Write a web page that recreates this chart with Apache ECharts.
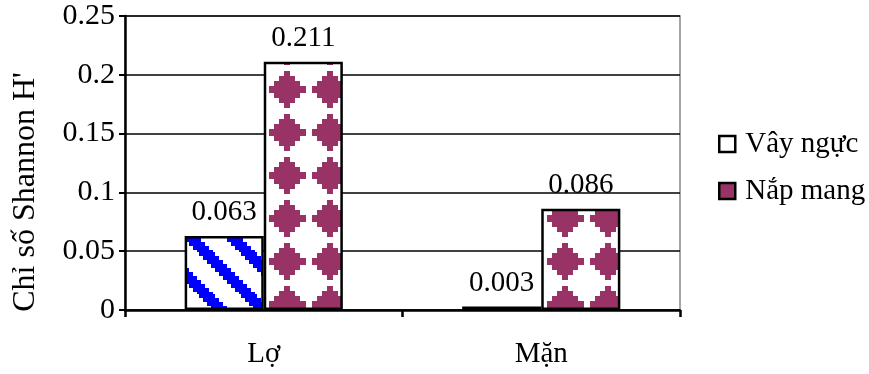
<!DOCTYPE html>
<html>
<head>
<meta charset="utf-8">
<script src="https://cdn.jsdelivr.net/npm/echarts@6/dist/echarts.min.js"></script>
<style>
  html, body { margin: 0; padding: 0; background: #fff; }
  #chart { width: 869px; height: 374px; }
</style>
</head>
<body>
<div id="chart"></div>
<script>
// du lieu doc tu hinh
var categories = ['Lợ', 'Mặn'];
var seriesNames = ['Vây ngực', 'Nắp mang'];
var vayNguc = [0.063, 0.003];
var napMang = [0.211, 0.086];
var yTicks = [0, 0.05, 0.1, 0.15, 0.2, 0.25];

var FONT = '"Liberation Serif", "Times New Roman", serif';
var MAROON = '#993366';
var BLUE = '#0000ff';

// hoa van soc cheo mau xanh
function makeStripeTile() {
  var n = 42;
  var c = document.createElement('canvas');
  c.width = n; c.height = n;
  var ctx = c.getContext('2d');
  ctx.fillStyle = '#fff';
  ctx.fillRect(0, 0, n, n);
  ctx.fillStyle = BLUE;
  for (var y = 0; y < n; y++) {
    var yq = Math.floor(y / 4) * 4;
    for (var x = 0; x < n; x++) {
      var d = (((x - yq) % n) + n) % n;
      if (d >= 31 || d < 5) ctx.fillRect(x, y, 1, 1);
    }
  }
  return c;
}

// hoa van hinh thoi mau tim
function makeDiamondTile() {
  var n = 43;
  var c = document.createElement('canvas');
  c.width = n; c.height = n;
  var ctx = c.getContext('2d');
  ctx.fillStyle = '#fff';
  ctx.fillRect(0, 0, n, n);
  ctx.fillStyle = MAROON;
  var steps = [[18.5, 3.5], [13, 8.5], [8, 13.5], [3, 18.5]];
  for (var i = -1; i <= 1; i++) {
    for (var j = -1; j <= 1; j++) {
      var cx = 29 + i * n, cy = 3 + j * n;
      steps.forEach(function (s) {
        ctx.fillRect(Math.round(cx - s[0]), Math.round(cy - s[1]), Math.round(s[0] * 2), Math.round(s[1] * 2));
      });
    }
  }
  return c;
}

var stripeTile = makeStripeTile();
var diamondTile = makeDiamondTile();
var diamondShift = [0, -23];

var chart = echarts.init(document.getElementById('chart'), null, { renderer: 'canvas' });

var labelStyle = {
  show: true,
  position: 'top',
  distance: 9,
  color: '#000',
  fontFamily: FONT,
  fontSize: 29,
  formatter: function (p) { return p.value.toFixed(3); }
};

chart.setOption({
  animation: false,
  backgroundColor: '#fff',
  grid: {
    left: 125, right: 189, top: 16, bottom: 64,
    show: true, borderColor: '#888', borderWidth: 1.5, backgroundColor: 'transparent'
  },
  legend: {
    orient: 'vertical',
    left: 713, top: 124,
    itemWidth: 16, itemHeight: 16, itemGap: 17,
    icon: 'rect',
    textStyle: { fontFamily: FONT, fontSize: 29, color: '#000', lineHeight: 30, padding: [0, 0, 0, 5] },
    data: [
      { name: seriesNames[0], itemStyle: { color: '#fff', borderColor: '#000', borderWidth: 2.5 } },
      { name: seriesNames[1], itemStyle: { color: MAROON, borderColor: '#000', borderWidth: 2.5 } }
    ]
  },
  xAxis: {
    type: 'category',
    data: categories,
    axisLine: { lineStyle: { color: '#000', width: 2.5 } },
    axisTick: { show: true, length: 7, lineStyle: { color: '#000', width: 2.5 } },
    axisLabel: { color: '#000', fontFamily: FONT, fontSize: 29, lineHeight: 30, margin: 29 }
  },
  yAxis: {
    type: 'value',
    min: yTicks[0], max: yTicks[yTicks.length - 1], interval: 0.05,
    axisLine: { show: true, lineStyle: { color: '#000', width: 2.5 } },
    axisTick: { show: true, length: 6, lineStyle: { color: '#000', width: 2 } },
    axisLabel: {
      color: '#000', fontFamily: FONT, fontSize: 30, margin: 10,
      formatter: function (v) { return String(Math.round(v * 100) / 100); }
    },
    splitLine: { show: true, lineStyle: { color: '#000', width: 1.5 } }
  },
  graphic: [{
    type: 'text',
    x: 26, y: 192,
    rotation: Math.PI / 2,
    style: {
      text: "Chỉ số Shannon H'",
      fontFamily: FONT, fontSize: 32, fill: '#000',
      align: 'center', verticalAlign: 'middle'
    }
  }],
  series: [
    {
      name: seriesNames[0],
      type: 'bar',
      barGap: 0,
      barCategoryGap: '43%',
      data: vayNguc.map(function (v) { return { value: v }; }),
      itemStyle: {
        color: { image: stripeTile, repeat: 'repeat' },
        borderColor: '#000', borderWidth: 2.5
      },
      label: labelStyle
    },
    {
      name: seriesNames[1],
      type: 'bar',
      barGap: 0,
      barCategoryGap: '43%',
      data: napMang.map(function (v, i) {
        return {
          value: v,
          itemStyle: { color: { image: diamondTile, repeat: 'repeat', x: diamondShift[i] } }
        };
      }),
      itemStyle: {
        color: { image: diamondTile, repeat: 'repeat' },
        borderColor: '#000', borderWidth: 2.5
      },
      label: labelStyle
    }
  ]
});
</script>
</body>
</html>
